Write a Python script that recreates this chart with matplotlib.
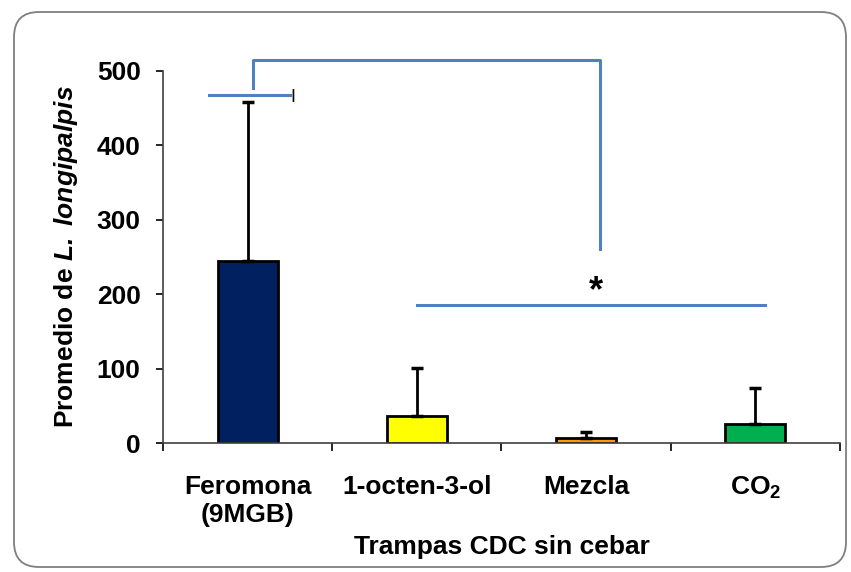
import matplotlib as mpl
mpl.use("Agg")
import matplotlib.pyplot as plt
from matplotlib.patches import FancyBboxPatch
import numpy as np

plt.rcParams["font.family"] = ["Liberation Sans", "DejaVu Sans"]
plt.rcParams["font.weight"] = "bold"
plt.rcParams["mathtext.fontset"] = "custom"
plt.rcParams["mathtext.rm"] = "Liberation Sans:bold"
plt.rcParams["mathtext.bf"] = "Liberation Sans:bold"
plt.rcParams["mathtext.it"] = "Liberation Sans:bold:italic"
plt.rcParams["mathtext.bfit"] = "Liberation Sans:bold:italic"

categories = ["Feromona\n(9MGB)", "1-octen-3-ol", "Mezcla", r"CO$_\mathbf{2}$"]
means = [245, 36, 7, 25]
upper_err = [213, 65, 8, 49]
colors = ["#002060", "#FFFF00", "#FF9900", "#00B050"]
BLUE = "#4F81BD"

fig = plt.figure(figsize=(8.51, 5.72), dpi=100)
ax = fig.add_axes([0.1915, 0.2255, 0.7955, 0.6504])

x = np.arange(len(categories))
ax.bar(x, means, width=0.355, color=colors, edgecolor="black", linewidth=2, zorder=2)
ax.errorbar(x, means, yerr=[np.zeros(len(means)), upper_err], fmt="none",
            ecolor="black", elinewidth=2, capsize=4.5, capthick=2.5, zorder=3)

ax.set_xlim(-0.5, 3.5)
ax.set_ylim(0, 500)
ax.set_yticks([0, 100, 200, 300, 400, 500])
ax.set_xticks(x)
ax.set_xticklabels(categories, fontsize=19, fontweight="bold", linespacing=1.2)
ax.set_xticks(np.arange(-0.5, 4, 1), minor=True)
ax.tick_params(axis="x", which="major", length=0, pad=23)
ax.tick_params(axis="x", which="minor", length=6, width=1.2, direction="out")
ax.tick_params(axis="y", length=5, width=1.2, pad=11, labelsize=19)
for lab in ax.get_yticklabels():
    lab.set_fontweight("bold")
for side in ["top", "right"]:
    ax.spines[side].set_visible(False)
for side in ["left", "bottom"]:
    ax.spines[side].set_linewidth(1.2)
    ax.spines[side].set_color("#404040")

ax.set_ylabel(r"Promedio de $\mathbfit{L.}$ $\mathbfit{longipalpis}$", fontsize=19,
              fontweight="bold", labelpad=12)
ax.set_xlabel("Trampas CDC sin cebar", fontsize=19, fontweight="bold", labelpad=6)

# significance annotations
lw = 2.2
ax.plot([-0.23, 0.25], [468, 468], color=BLUE, lw=lw, clip_on=False)
ax.plot([0.03, 0.03, 2.08, 2.08], [477, 515, 515, 261], color=BLUE, lw=lw,
        clip_on=False, solid_joinstyle="round")
ax.plot([1.0, 3.06], [185.5, 185.5], color=BLUE, lw=lw, clip_on=False)
ax.text(2.06, 203, "*", ha="center", va="center", fontsize=26, fontweight="bold")
ax.text(0.27, 465, "I", ha="center", va="center", fontsize=13, fontweight="normal")

# rounded frame
frame = FancyBboxPatch((0.14, 0.05), 8.32, 5.55,
                       boxstyle="round,pad=0,rounding_size=0.25",
                       transform=fig.dpi_scale_trans, fill=False,
                       edgecolor="#7F7F7F", linewidth=1.3)
fig.patches.append(frame)

fig.savefig("out.png", dpi=100, facecolor="white")
